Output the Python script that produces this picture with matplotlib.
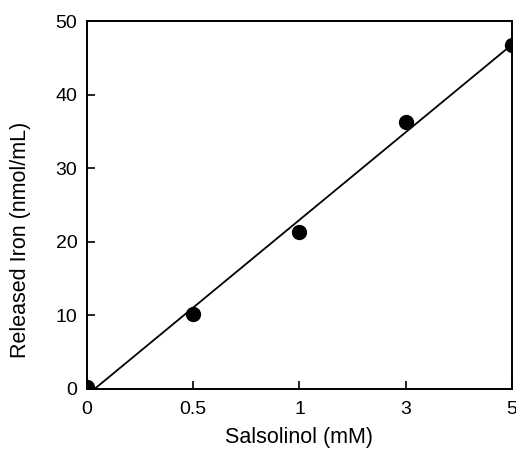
import numpy as np
import matplotlib.pyplot as plt

plt.rcParams['font.family'] = ['Liberation Sans', 'DejaVu Sans']

# 数据
conc_labels = ["0", "0.5", "1", "3", "5"]
iron = [0.3, 10.2, 21.3, 36.3, 46.8]

xpos = np.arange(len(conc_labels))
slope, icpt = np.polyfit(xpos, iron, 1)

fig = plt.figure(figsize=(5.16, 4.53), dpi=100)
ax = fig.add_axes([0.1686, 0.1413, 0.8236, 0.8123])

xs = np.array([xpos[0], xpos[-1]])
ax.plot(xs, slope * xs + icpt, color='black', lw=1.3)
ax.plot(xpos, iron, 'o', color='black', ms=10)

ax.set_xlim(xpos[0], xpos[-1])
ax.set_ylim(0, 50)
ax.set_xticks(xpos)
ax.set_xticklabels(conc_labels)
ax.set_yticks([0, 10, 20, 30, 40, 50])
ax.tick_params(direction='in', length=6, width=1.2, labelsize=14)
ax.tick_params(axis='y', pad=7)
ax.tick_params(axis='x', pad=9)
for s in ax.spines.values():
    s.set_linewidth(1.4)

ax.set_xlabel('Salsolinol (mM)', fontsize=15.5, labelpad=6)
ax.set_ylabel('Released Iron (nmol/mL)', fontsize=15.5)
ax.yaxis.set_label_coords(-0.132, 0.405)

plt.savefig('out.png', dpi=100)
